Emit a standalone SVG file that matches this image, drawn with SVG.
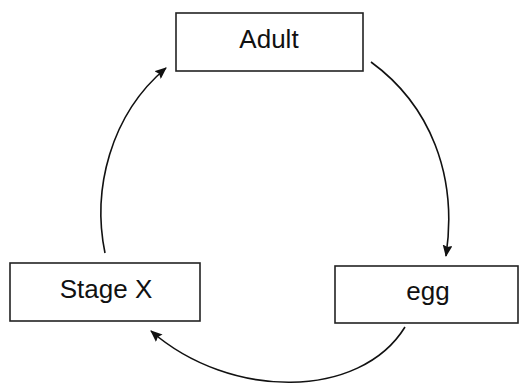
<svg xmlns="http://www.w3.org/2000/svg" width="520" height="385" viewBox="0 0 520 385">
<style>
.box{fill:#fff;stroke:#222;stroke-width:1.6}
.lbl{font-family:"Liberation Sans",Arial,sans-serif;font-size:26px;fill:#111;text-anchor:middle}
.con{fill:none;stroke:#111;stroke-width:1.6}
</style>
<defs>
<marker id="ah" viewBox="0 0 12 10" refX="11" refY="5" markerWidth="12" markerHeight="10" markerUnits="userSpaceOnUse" orient="auto">
<path d="M0,0 L12,5 L0,10 L2,5 z" fill="#111"/>
</marker>
</defs>
<rect width="520" height="385" fill="#fff"/>
<g id="connectors">
<path class="con" d="M371,62 C430,105 458,175 446,256" marker-end="url(#ah)"/>
<path class="con" d="M405,327 C360,400 230,400 151,331" marker-end="url(#ah)"/>
<path class="con" d="M105,253 C92,190 110,115 166,68" marker-end="url(#ah)"/>
</g>
<g id="adult">
<rect class="box" x="176" y="13" width="187" height="58"/>
<text class="lbl" x="269" y="48">Adult</text>
</g>
<g id="egg">
<rect class="box" x="335" y="266" width="183" height="57"/>
<text class="lbl" x="428" y="300">egg</text>
</g>
<g id="stagex">
<rect class="box" x="10" y="263" width="190" height="58"/>
<text class="lbl" x="106" y="298">Stage X</text>
</g>
</svg>
